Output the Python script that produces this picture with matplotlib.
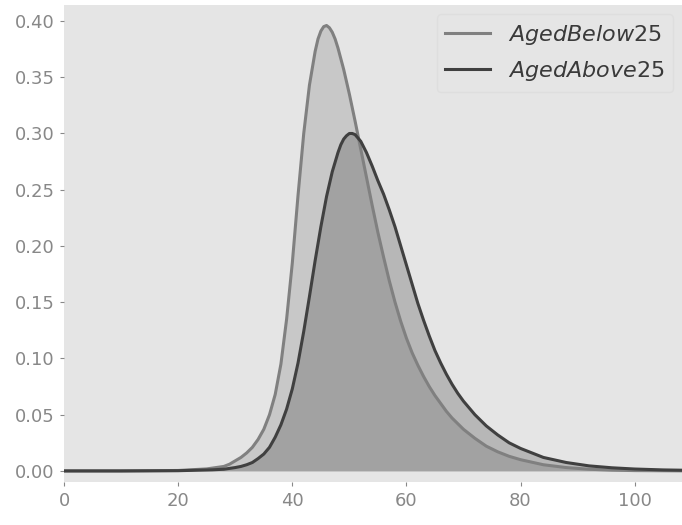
import matplotlib
matplotlib.use("Agg")
import matplotlib.pyplot as plt

# density curves
below_x = [0, 10, 20, 25, 28, 29, 30, 31, 32, 33, 34, 35, 36, 37, 38, 39, 40,
           41, 42, 43, 44, 44.5, 45, 45.5, 46, 46.5, 47, 47.5, 48, 49, 50,
           51, 52, 53, 54, 55, 56, 57, 58, 59, 60, 61, 62, 63, 64, 65, 66,
           67, 68, 69, 70, 71, 72, 74, 76, 78, 80, 84, 88, 92, 96, 100, 110]
below_y = [0.0, 0.0, 0.0004, 0.0018, 0.004, 0.006, 0.009, 0.012, 0.016, 0.021,
           0.028, 0.037, 0.050, 0.068, 0.095, 0.135, 0.185, 0.245, 0.300,
           0.343, 0.373, 0.384, 0.391, 0.395, 0.396, 0.394, 0.390, 0.384,
           0.376, 0.357, 0.335, 0.311, 0.286, 0.261, 0.236, 0.212, 0.190,
           0.169, 0.150, 0.133, 0.118, 0.105, 0.094, 0.084, 0.075, 0.067,
           0.060, 0.053, 0.047, 0.042, 0.037, 0.033, 0.029, 0.022, 0.017,
           0.013, 0.010, 0.0055, 0.003, 0.0015, 0.0007, 0.0003, 0.0]

above_x = [0, 10, 20, 26, 28, 30, 31, 32, 33, 34, 35, 36, 37, 38, 39, 40, 41,
           42, 43, 44, 45, 46, 47, 48, 48.5, 49, 49.5, 50, 50.5, 51, 51.5,
           52, 53, 54, 55, 56, 57, 58, 59, 60, 61, 62, 63, 64, 65, 66, 67, 68,
           69, 70, 72, 74, 76, 78, 80, 84, 88, 92, 96, 100, 105, 110]
above_y = [0.0, 0.0, 0.0002, 0.001, 0.0015, 0.003, 0.004, 0.0055, 0.0075,
           0.011, 0.015, 0.021, 0.030, 0.041, 0.055, 0.073, 0.096, 0.124,
           0.155, 0.187, 0.217, 0.244, 0.266, 0.283, 0.290, 0.295, 0.298,
           0.300, 0.300, 0.299, 0.296, 0.293, 0.283, 0.271, 0.258, 0.246,
           0.232, 0.217, 0.200, 0.183, 0.166, 0.149, 0.134, 0.120, 0.107,
           0.096, 0.086, 0.077, 0.069, 0.062, 0.050, 0.040, 0.032, 0.025,
           0.020, 0.012, 0.0075, 0.0045, 0.0028, 0.0017, 0.0009, 0.0005]

labels = ["$AgedBelow25$", "$AgedAbove25$"]
colors = ["#808080", "#404040"]

fig = plt.figure(figsize=(6.82, 5.25), dpi=100)
ax = fig.add_axes([0.094, 0.082, 0.906, 0.908])
ax.set_facecolor("#E5E5E5")

for xs, ys, lab, col in zip([below_x, above_x], [below_y, above_y], labels, colors):
    ax.plot(xs, ys, color=col, lw=2.2, label=lab, solid_joinstyle="round")
    ax.fill_between(xs, ys, 0, color=col, alpha=0.28, lw=0)

ax.set_xlim(0, 108.3)
ax.set_ylim(-0.0098, 0.414)
ax.set_yticks([0.0, 0.05, 0.10, 0.15, 0.20, 0.25, 0.30, 0.35, 0.40])
ax.set_xticks([0, 20, 40, 60, 80, 100])
ax.yaxis.set_major_formatter(matplotlib.ticker.FormatStrFormatter("%.2f"))

for s in ax.spines.values():
    s.set_visible(False)
ax.tick_params(colors="#888888", labelsize=13, length=3, width=0.8, pad=4)

leg = ax.legend(loc="upper right", fontsize=16, frameon=True, borderaxespad=0.4,
                handlelength=2.0, labelspacing=0.55)
leg.get_frame().set_facecolor("#E5E5E5")
leg.get_frame().set_edgecolor("#DDDDDD")
for t in leg.get_texts():
    t.set_color("#3a3a3a")

fig.savefig("out.png", dpi=100)
